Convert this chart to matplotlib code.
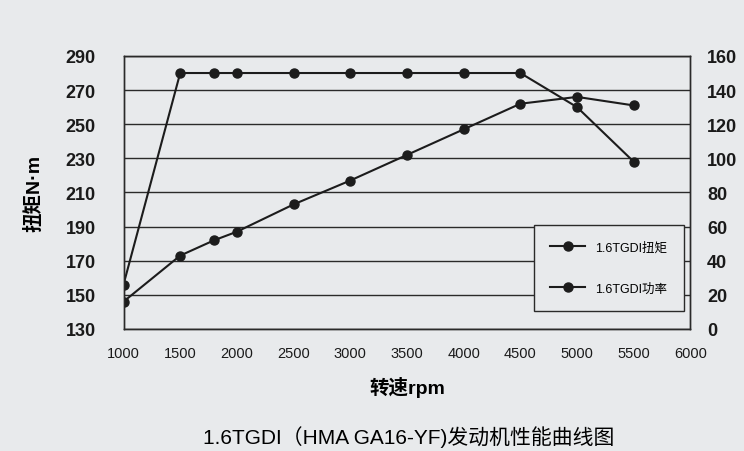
import matplotlib.pyplot as plt

plt.rcParams['font.family'] = ['Liberation Sans', 'Noto Sans CJK SC', 'DejaVu Sans']

# engine speed (rpm)
rpm = [1000, 1500, 1800, 2000, 2500, 3000, 3500, 4000, 4500, 5000, 5500]
# torque N·m (left axis)
torque = [156, 280, 280, 280, 280, 280, 280, 280, 280, 260, 228]
# power kW (right axis)
power = [16, 43, 52, 57, 73, 87, 102, 117, 132, 136, 131]

x_ticks = [1000, 1500, 2000, 2500, 3000, 3500, 4000, 4500, 5000, 5500, 6000]
left_ticks = [130, 150, 170, 190, 210, 230, 250, 270, 290]
right_ticks = [0, 20, 40, 60, 80, 100, 120, 140, 160]

bg = '#e8eaec'
ink = '#1c1c1c'

fig = plt.figure(figsize=(7.44, 4.52), dpi=100, facecolor=bg)
ax = fig.add_axes([0.166, 0.27, 0.762, 0.604])
ax.set_facecolor(bg)
ax2 = ax.twinx()

l1, = ax.plot(rpm, torque, color=ink, lw=1.5, marker='o', ms=6.5, label='1.6TGDI扭矩')
l2, = ax2.plot(rpm, power, color=ink, lw=1.5, marker='o', ms=6.5, label='1.6TGDI功率')

ax.set_xlim(1000, 6000)
ax.set_ylim(130, 290)
ax2.set_ylim(0, 160)
ax.set_xticks(x_ticks)
ax.set_yticks(left_ticks)
ax2.set_yticks(right_ticks)

ax.yaxis.grid(True, color='#2a2a2a', lw=1.0)
ax.set_axisbelow(True)
for a in (ax, ax2):
    for s in a.spines.values():
        s.set_color('#2a2a2a')
        s.set_linewidth(1.0)
    a.tick_params(length=0, labelsize=13, colors='#1a1a1a')

ax.tick_params(axis='y', pad=20)
ax.tick_params(axis='x', pad=12, labelsize=10.5)
ax2.tick_params(axis='y', pad=12)
for lab in ax.get_yticklabels() + ax2.get_yticklabels():
    lab.set_fontweight('bold')

ax.set_ylabel('扭矩N·m', fontsize=14, fontweight='bold', labelpad=16)
ax.set_xlabel('转速rpm', fontsize=14, fontweight='bold', labelpad=12)
fig.text(0.549, 0.033, '1.6TGDI（HMA GA16-YF)发动机性能曲线图', ha='center', va='center',
         fontsize=15)

leg = ax2.legend(handles=[l1, l2], loc='lower right', bbox_to_anchor=(0.988, 0.066),
                 borderaxespad=0, fontsize=9, frameon=True, fancybox=False,
                 labelspacing=2.3, borderpad=1.3, handlelength=2.8, handletextpad=0.8)
leg.get_frame().set_edgecolor('#2a2a2a')
leg.get_frame().set_facecolor(bg)
leg.get_frame().set_alpha(1)

fig.savefig('out.png', dpi=100, facecolor=bg)
